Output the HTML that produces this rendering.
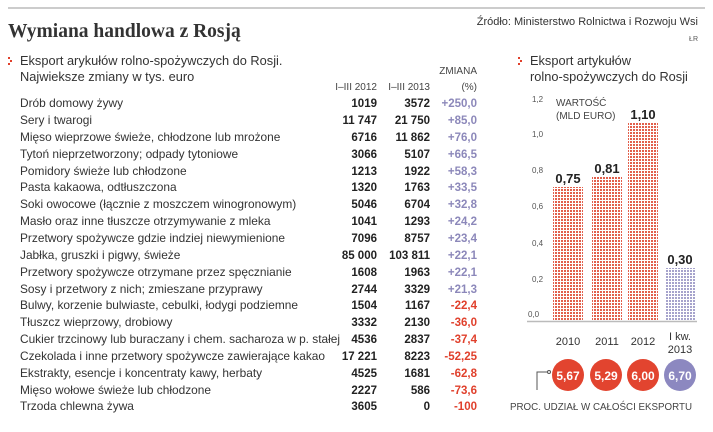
<!DOCTYPE html>
<html><head><meta charset="utf-8"><style>
body{margin:0;background:#fff;}
svg{display:block;font-family:"Liberation Sans",sans-serif;}
.n{font-size:11.9px;fill:#333;}
.b{font-size:11.5px;font-weight:bold;fill:#222;text-anchor:end;}
.p{font-size:11.5px;fill:#8c88ba;text-anchor:end;font-weight:bold;}
.m{font-size:11.5px;fill:#e0402c;text-anchor:end;font-weight:bold;}
.t{font-size:8px;fill:#555;}
</style></head><body>
<svg width="713" height="432" viewBox="0 0 713 432">
<defs>
<pattern id="r" width="3" height="3" patternUnits="userSpaceOnUse"><rect width="3" height="3" fill="#fff"/><rect width="2" height="2" fill="#e2604c"/></pattern>
<pattern id="v" width="3" height="3" patternUnits="userSpaceOnUse"><rect width="3" height="3" fill="#fff"/><rect width="2" height="2" fill="#a6a3cc"/></pattern>
</defs>
<line x1="8" y1="8" x2="705" y2="8" stroke="#bbb" stroke-width="1.5"/>
<text x="8" y="37" style="font-family:'Liberation Serif',serif;font-weight:bold;font-size:19.5px;fill:#333">Wymiana handlowa z Rosją</text>
<text x="698" y="25" text-anchor="end" style="font-size:11px;fill:#333">Źródło: Ministerstwo Rolnictwa i Rozwoju Wsi</text>
<text x="698" y="41" text-anchor="end" style="font-size:7px;fill:#555">ŁR</text>
<g fill="#e0402c"><rect x="8" y="57" width="2" height="2"/><rect x="10" y="60" width="2" height="2"/><rect x="8" y="63" width="2" height="2"/>
<rect x="518" y="57" width="2" height="2"/><rect x="520" y="60" width="2" height="2"/><rect x="518" y="63" width="2" height="2"/></g>
<text x="20" y="65" class="n" style="font-size:12.8px">Eksport arykułów rolno-spożywczych do Rosji.</text>
<text x="20" y="81" class="n" style="font-size:12.8px">Najwieksze zmiany w tys. euro</text>
<text x="530" y="65" class="n" style="font-size:12.8px">Eksport artykułów</text>
<text x="530" y="81" class="n" style="font-size:12.8px">rolno-spożywczych do Rosji</text>
<text x="477" y="74" text-anchor="end" style="font-size:10px;fill:#444">ZMIANA</text>
<text x="477" y="90" text-anchor="end" style="font-size:10px;fill:#444">(%)</text>
<text x="377" y="90" text-anchor="end" style="font-size:10px;fill:#444">I–III 2012</text>
<text x="430" y="90" text-anchor="end" style="font-size:10px;fill:#444">I–III 2013</text>
<g>
<text x="20" y="107" class="n">Drób domowy żywy</text><text x="377" y="107" class="b">1019</text><text x="430" y="107" class="b">3572</text><text x="477" y="107" class="p">+250,0</text>
<text x="20" y="124" class="n">Sery i twarogi</text><text x="377" y="124" class="b">11 747</text><text x="430" y="124" class="b">21 750</text><text x="477" y="124" class="p">+85,0</text>
<text x="20" y="141" class="n">Mięso wieprzowe świeże, chłodzone lub mrożone</text><text x="377" y="141" class="b">6716</text><text x="430" y="141" class="b">11 862</text><text x="477" y="141" class="p">+76,0</text>
<text x="20" y="158" class="n">Tytoń nieprzetworzony; odpady tytoniowe</text><text x="377" y="158" class="b">3066</text><text x="430" y="158" class="b">5107</text><text x="477" y="158" class="p">+66,5</text>
<text x="20" y="175" class="n">Pomidory świeże lub chłodzone</text><text x="377" y="175" class="b">1213</text><text x="430" y="175" class="b">1922</text><text x="477" y="175" class="p">+58,3</text>
<text x="20" y="191" class="n">Pasta kakaowa, odtłuszczona</text><text x="377" y="191" class="b">1320</text><text x="430" y="191" class="b">1763</text><text x="477" y="191" class="p">+33,5</text>
<text x="20" y="208" class="n">Soki owocowe (łącznie z moszczem winogronowym)</text><text x="377" y="208" class="b">5046</text><text x="430" y="208" class="b">6704</text><text x="477" y="208" class="p">+32,8</text>
<text x="20" y="225" class="n">Masło oraz inne tłuszcze otrzymywanie z mleka</text><text x="377" y="225" class="b">1041</text><text x="430" y="225" class="b">1293</text><text x="477" y="225" class="p">+24,2</text>
<text x="20" y="242" class="n">Przetwory spożywcze gdzie indziej niewymienione</text><text x="377" y="242" class="b">7096</text><text x="430" y="242" class="b">8757</text><text x="477" y="242" class="p">+23,4</text>
<text x="20" y="259" class="n">Jabłka, gruszki i pigwy, świeże</text><text x="377" y="259" class="b">85 000</text><text x="430" y="259" class="b">103 811</text><text x="477" y="259" class="p">+22,1</text>
<text x="20" y="276" class="n">Przetwory spożywcze otrzymane przez spęcznianie</text><text x="377" y="276" class="b">1608</text><text x="430" y="276" class="b">1963</text><text x="477" y="276" class="p">+22,1</text>
<text x="20" y="293" class="n">Sosy i przetwory z nich; zmieszane przyprawy</text><text x="377" y="293" class="b">2744</text><text x="430" y="293" class="b">3329</text><text x="477" y="293" class="p">+21,3</text>
<text x="20" y="309" class="n">Bulwy, korzenie bulwiaste, cebulki, łodygi podziemne</text><text x="377" y="309" class="b">1504</text><text x="430" y="309" class="b">1167</text><text x="477" y="309" class="m">-22,4</text>
<text x="20" y="326" class="n">Tłuszcz wieprzowy, drobiowy</text><text x="377" y="326" class="b">3332</text><text x="430" y="326" class="b">2130</text><text x="477" y="326" class="m">-36,0</text>
<text x="20" y="343" class="n" textLength="320" lengthAdjust="spacingAndGlyphs">Cukier trzcinowy lub buraczany i chem. sacharoza w p. stałej</text><text x="377" y="343" class="b">4536</text><text x="430" y="343" class="b">2837</text><text x="477" y="343" class="m">-37,4</text>
<text x="20" y="360" class="n" textLength="305" lengthAdjust="spacingAndGlyphs">Czekolada i inne przetwory spożywcze zawierające kakao</text><text x="377" y="360" class="b">17 221</text><text x="430" y="360" class="b">8223</text><text x="477" y="360" class="m">-52,25</text>
<text x="20" y="377" class="n">Ekstrakty, esencje i koncentraty kawy, herbaty</text><text x="377" y="377" class="b">4525</text><text x="430" y="377" class="b">1681</text><text x="477" y="377" class="m">-62,8</text>
<text x="20" y="394" class="n">Mięso wołowe świeże lub chłodzone</text><text x="377" y="394" class="b">2227</text><text x="430" y="394" class="b">586</text><text x="477" y="394" class="m">-73,6</text>
<text x="20" y="410" class="n">Trzoda chlewna żywa</text><text x="377" y="410" class="b">3605</text><text x="430" y="410" class="b">0</text><text x="477" y="410" class="m">-100</text>
</g>
<g class="t">
<text x="532" y="102">1,2</text><text x="532" y="137">1,0</text><text x="532" y="173">0,8</text><text x="532" y="209">0,6</text><text x="532" y="246">0,4</text><text x="532" y="282">0,2</text><text x="528" y="317">0,0</text>
</g>
<text x="556" y="106" style="font-size:10px;fill:#444">WARTOŚĆ</text>
<text x="556" y="119" style="font-size:10px;fill:#444">(MLD EURO)</text>
<rect x="553" y="187" width="30" height="134" fill="url(#r)"/>
<rect x="592" y="177" width="30" height="144" fill="url(#r)"/>
<rect x="628" y="123" width="30" height="198" fill="url(#r)"/>
<rect x="665" y="268" width="30" height="53" fill="url(#v)"/>
<line x1="527" y1="321.5" x2="697" y2="321.5" stroke="#bbb" stroke-width="1.5"/>
<g style="font-size:13px;font-weight:bold;fill:#222" text-anchor="middle">
<text x="568" y="183">0,75</text><text x="607" y="173">0,81</text><text x="643" y="119">1,10</text><text x="680" y="264">0,30</text>
</g>
<g style="font-size:11px;fill:#333" text-anchor="middle">
<text x="568" y="345">2010</text><text x="607" y="345">2011</text><text x="643" y="345">2012</text><text x="680" y="340">I kw.</text><text x="680" y="353">2013</text>
</g>
<polyline points="537,390 537,372 548,372" fill="none" stroke="#555" stroke-width="1"/>
<circle cx="549" cy="372" r="1.5" fill="#fff" stroke="#555"/>
<g><circle cx="568" cy="375" r="16" fill="#e2442f"/><circle cx="606" cy="375" r="16" fill="#e2442f"/><circle cx="643" cy="375" r="16" fill="#e2442f"/><circle cx="680" cy="375" r="16" fill="#8c88c0"/></g>
<g style="font-size:12px;font-weight:bold;fill:#fff" text-anchor="middle">
<text x="568" y="380">5,67</text><text x="606" y="380">5,29</text><text x="643" y="380">6,00</text><text x="680" y="380">6,70</text>
</g>
<text x="510" y="410" style="font-size:10px;fill:#444" textLength="182" lengthAdjust="spacingAndGlyphs">PROC. UDZIAŁ W CAŁOŚCI EKSPORTU</text>
</svg>
</body></html>
